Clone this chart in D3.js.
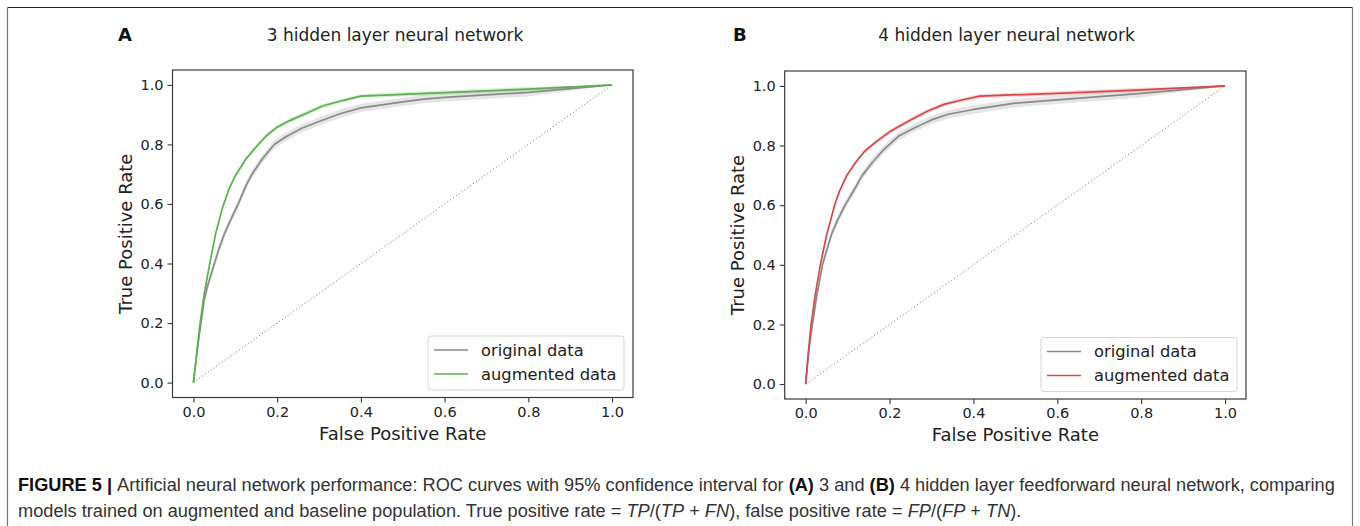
<!DOCTYPE html>
<html>
<head>
<meta charset="utf-8">
<script src="https://cdn.jsdelivr.net/npm/d3@7"></script>
<style>
  html, body { margin: 0; padding: 0; background: #fff; }
  svg { display: block; }
</style>
</head>
<body>
<svg id="chart" width="1360" height="526"></svg>
<script>
// ---------------- DATA ----------------
const panelLetters = ["A", "B"];
const panelTitles = ["3 hidden layer neural network", "4 hidden layer neural network"];
const seriesNames = ["original data", "augmented data"];
const xLabel = "False Positive Rate";
const yLabel = "True Positive Rate";
const tickValues = [0.0, 0.2, 0.4, 0.6, 0.8, 1.0];
const tickLabels = ["0.0", "0.2", "0.4", "0.6", "0.8", "1.0"];

// Panel A (3 hidden layers) – FPR / TPR
const fprOriginalA = [0, 0.01, 0.018, 0.026, 0.035, 0.048, 0.06, 0.074, 0.09, 0.107, 0.125, 0.14, 0.164, 0.193, 0.22, 0.26, 0.30, 0.35, 0.40, 0.50, 0.55, 0.60, 0.80, 1.0];
const tprOriginalA = [0, 0.12, 0.20, 0.28, 0.33, 0.39, 0.445, 0.50, 0.55, 0.60, 0.66, 0.70, 0.75, 0.80, 0.825, 0.855, 0.877, 0.903, 0.923, 0.943, 0.952, 0.958, 0.975, 1.0];
const fprAugmentedA = [0, 0.008, 0.016, 0.026, 0.039, 0.053, 0.07, 0.085, 0.10, 0.125, 0.152, 0.175, 0.20, 0.23, 0.27, 0.31, 0.35, 0.40, 0.60, 0.80, 1.0];
const tprAugmentedA = [0, 0.10, 0.20, 0.30, 0.40, 0.50, 0.59, 0.65, 0.695, 0.75, 0.795, 0.83, 0.858, 0.88, 0.905, 0.93, 0.945, 0.962, 0.974, 0.986, 1.0];

// Panel B (4 hidden layers) – FPR / TPR
const fprOriginalB = [0, 0.008, 0.016, 0.027, 0.04, 0.061, 0.076, 0.094, 0.115, 0.135, 0.16, 0.185, 0.222, 0.26, 0.30, 0.34, 0.40, 0.50, 0.60, 0.80, 1.0];
const tprOriginalB = [0, 0.12, 0.20, 0.30, 0.40, 0.50, 0.55, 0.60, 0.65, 0.70, 0.745, 0.785, 0.832, 0.86, 0.886, 0.905, 0.921, 0.942, 0.953, 0.975, 1.0];
const fprAugmentedB = [0, 0.006, 0.013, 0.023, 0.035, 0.05, 0.069, 0.08, 0.098, 0.12, 0.14, 0.17, 0.20, 0.25, 0.29, 0.33, 0.37, 0.415, 0.60, 0.80, 1.0];
const tprAugmentedB = [0, 0.10, 0.20, 0.30, 0.40, 0.50, 0.60, 0.645, 0.70, 0.745, 0.78, 0.815, 0.846, 0.886, 0.915, 0.938, 0.952, 0.966, 0.975, 0.987, 1.0];

// 95% CI half-widths (TPR units)
const ciHalfOriginal = [0.014, 0.014];
const ciHalfAugmented = [0.007, 0.007];

const captionLine1 = [
  {t: "FIGURE 5 | ", b: true},
  {t: "Artificial neural network performance: ROC curves with 95% confidence interval for "},
  {t: "(A)", b: true}, {t: " 3 and "}, {t: "(B)", b: true},
  {t: " 4 hidden layer feedforward neural network, comparing"}
];
const captionLine2 = [
  {t: "models trained on augmented and baseline population. True positive rate = "},
  {t: "TP", i: true}, {t: "/("}, {t: "TP", i: true}, {t: " + "}, {t: "FN", i: true},
  {t: "), false positive rate = "},
  {t: "FP", i: true}, {t: "/("}, {t: "FP", i: true}, {t: " + "}, {t: "TN", i: true}, {t: ")."}
];

// ---------------- LAYOUT / STYLE ----------------
const panels = [
  {left: 172.5, right: 633, top: 70, bottom: 397.5, titleX: 395, letterX: 118,
   orig: [fprOriginalA, tprOriginalA], aug: [fprAugmentedA, tprAugmentedA], augColor: "#5cb04f"},
  {left: 784.7, right: 1246, top: 71, bottom: 399, titleX: 1006.5, letterX: 733,
   orig: [fprOriginalB, tprOriginalB], aug: [fprAugmentedB, tprAugmentedB], augColor: "#d9474a"}
];
const origColor = "#8a8a8a";
const axisColor = "#3a3a3a";
const font = "DejaVu Sans, sans-serif";

const svg = d3.select("#chart");

// outer frame
svg.append("line").attr("x1", 7.5).attr("x2", 1352.5).attr("y1", 7.5).attr("y2", 7.5)
  .attr("stroke", "#222").attr("stroke-width", 1.2);
svg.append("line").attr("x1", 7.5).attr("x2", 7.5).attr("y1", 7.5).attr("y2", 526)
  .attr("stroke", "#777").attr("stroke-width", 1.2);
svg.append("line").attr("x1", 1352.5).attr("x2", 1352.5).attr("y1", 7.5).attr("y2", 526)
  .attr("stroke", "#777").attr("stroke-width", 1.2);

panels.forEach((p, pi) => {
  const x = d3.scaleLinear().domain([-0.05, 1.05]).range([p.left, p.right]);
  const y = d3.scaleLinear().domain([-0.05, 1.05]).range([p.bottom, p.top]);
  const g = svg.append("g");

  const clipId = "clip" + pi;
  g.append("clipPath").attr("id", clipId).append("rect")
    .attr("x", p.left).attr("y", p.top).attr("width", p.right - p.left).attr("height", p.bottom - p.top);
  const plot = g.append("g").attr("clip-path", `url(#${clipId})`);

  const mk = (fx, ty) => fx.map((v, i) => ({x: v, y: ty[i]}));
  const orig = mk(p.orig[0], p.orig[1]);
  const aug = mk(p.aug[0], p.aug[1]);

  const area = (h) => d3.area().x(d => x(d.x))
    .y0(d => y(Math.max(0, d.y - (d.x === 0 || d.x === 1 ? 0 : h))))
    .y1(d => y(Math.min(1, d.y + (d.x === 0 || d.x === 1 ? 0 : h))));
  const line = d3.line().x(d => x(d.x)).y(d => y(d.y));

  // diagonal chance line
  plot.append("path").datum([{x: 0, y: 0}, {x: 1, y: 1}]).attr("d", line)
    .attr("fill", "none").attr("stroke", "#888").attr("stroke-width", 1)
    .attr("stroke-dasharray", "1.3,2.2");

  plot.append("path").datum(orig).attr("d", area(ciHalfOriginal[pi]))
    .attr("fill", origColor).attr("fill-opacity", 0.22);
  plot.append("path").datum(aug).attr("d", area(ciHalfAugmented[pi]))
    .attr("fill", p.augColor).attr("fill-opacity", 0.22);

  plot.append("path").datum(orig).attr("d", line)
    .attr("fill", "none").attr("stroke", origColor).attr("stroke-width", 1.7).attr("stroke-linejoin", "round");
  plot.append("path").datum(aug).attr("d", line)
    .attr("fill", "none").attr("stroke", p.augColor).attr("stroke-width", 1.7).attr("stroke-linejoin", "round");

  // axes
  const xAxis = d3.axisBottom(x).tickValues(tickValues).tickFormat((d, i) => tickLabels[i]).tickSize(5).tickPadding(4);
  const yAxis = d3.axisLeft(y).tickValues(tickValues).tickFormat((d, i) => tickLabels[i]).tickSize(5).tickPadding(4);
  const gx = g.append("g").attr("transform", `translate(0,${p.bottom})`).call(xAxis);
  const gy = g.append("g").attr("transform", `translate(${p.left},0)`).call(yAxis);
  [gx, gy].forEach(a => {
    a.select(".domain").remove();
    a.selectAll(".tick line").attr("stroke", axisColor).attr("stroke-width", 1.1);
    a.selectAll(".tick text").attr("fill", "#222").style("font-family", font).style("font-size", "14.5px");
  });

  // spines
  g.append("rect").attr("x", p.left).attr("y", p.top)
    .attr("width", p.right - p.left).attr("height", p.bottom - p.top)
    .attr("fill", "none").attr("stroke", axisColor).attr("stroke-width", 1.2);

  // axis labels
  g.append("text").attr("x", (p.left + p.right) / 2).attr("y", p.bottom + 42)
    .attr("text-anchor", "middle").style("font-family", font).style("font-size", "18px")
    .attr("fill", "#222").text(xLabel);
  g.append("text").attr("transform", `translate(${p.left - 41},${(p.top + p.bottom) / 2}) rotate(-90)`)
    .attr("text-anchor", "middle").style("font-family", font).style("font-size", "18px")
    .attr("fill", "#222").text(yLabel);

  // title and panel letter
  g.append("text").attr("x", p.titleX).attr("y", 41).attr("text-anchor", "middle")
    .style("font-family", font).style("font-size", "17px").attr("fill", "#222").text(panelTitles[pi]);
  g.append("text").attr("x", p.letterX).attr("y", 41).style("font-family", font)
    .style("font-size", "18px").style("font-weight", "bold").attr("fill", "#111").text(panelLetters[pi]);

  // legend
  const lw = 196, lh = 54;
  const lx = p.right - 9 - lw, ly = p.bottom - 7.5 - lh;
  const lg = g.append("g");
  lg.append("rect").attr("x", lx).attr("y", ly).attr("width", lw).attr("height", lh)
    .attr("rx", 3).attr("fill", "#fff").attr("fill-opacity", 0.85)
    .attr("stroke", "#d6d6d6").attr("stroke-width", 1);
  const legColors = [origColor, p.augColor];
  seriesNames.forEach((n, i) => {
    const cy = ly + 14 + i * 24;
    lg.append("line").attr("x1", lx + 6).attr("x2", lx + 40).attr("y1", cy).attr("y2", cy)
      .attr("stroke", legColors[i]).attr("stroke-width", 1.6);
    lg.append("text").attr("x", lx + 53).attr("y", cy).attr("dy", "0.36em")
      .style("font-family", font).style("font-size", "16.3px").attr("fill", "#222").text(n);
  });
});

// caption: condensed look via horizontal scaling of Liberation Sans
const capFont = "'Liberation Sans', Arial, sans-serif";
const capSize = 17.5;
function caption(parts) {
  const t = svg.append("text").attr("x", 0).attr("y", 0)
    .style("font-family", capFont).style("font-size", capSize + "px").attr("fill", "#333");
  parts.forEach(pt => {
    t.append("tspan").text(pt.t)
      .style("font-weight", pt.b ? "bold" : null)
      .style("font-style", pt.i ? "italic" : null)
      .attr("fill", pt.b ? "#111" : null);
  });
  return t;
}
const c1 = caption(captionLine1);
const c2 = caption(captionLine2);
const sx = 1318 / c1.node().getComputedTextLength();
c1.attr("transform", `translate(18,491) scale(${sx},1)`);
c2.attr("transform", `translate(18,517) scale(${sx},1)`);
</script>
</body>
</html>
